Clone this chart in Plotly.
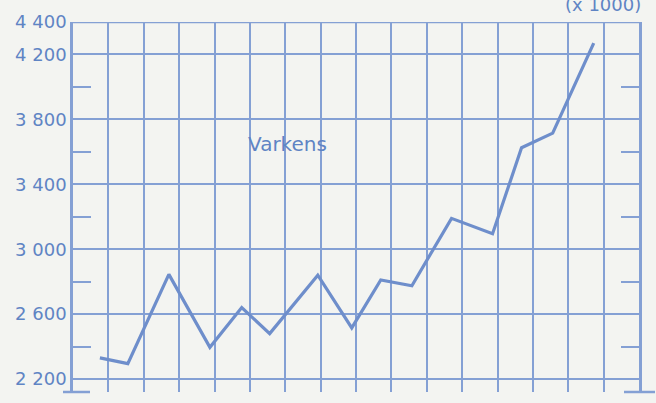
import plotly.graph_objects as go

# Data (x in grid-column units, y in thousands of pigs)
x_pos = [0.76, 1.55, 2.71, 3.87, 4.77, 5.56, 6.92, 7.88, 8.70, 9.58, 10.70, 11.86, 12.68, 13.56, 14.72]
varkens = [2330, 2295, 2845, 2395, 2640, 2480, 2840, 2515, 2810, 2775, 3190, 3095, 3625, 3715, 4270]

y_ticks = [2200, 2600, 3000, 3400, 3800, 4200, 4400]
y_ticktext = ["2 200", "2 600", "3 000", "3 400", "3 800", "4 200", "4 400"]
y_minor = [2400, 2800, 3200, 3600, 4000]
x_grid = list(range(0, 17))

BG = "#f3f4f1"
GRID = "#84a0d4"
LINE = "#6e8ecb"
TEXT = "#5f84c4"
FONT = "DejaVu Sans"

fig = go.Figure()
fig.add_trace(go.Scatter(
    x=x_pos, y=varkens, mode="lines",
    line=dict(color=LINE, width=3.2),
    hoverinfo="skip", showlegend=False,
))

fig.update_layout(
    width=656, height=403,
    paper_bgcolor=BG, plot_bgcolor=BG,
    margin=dict(l=73, r=17, t=17, b=11),
    font=dict(family=FONT, color=TEXT, size=18),
    xaxis=dict(
        range=[0, 16], tickvals=x_grid, showticklabels=False,
        showgrid=True, gridcolor=GRID, gridwidth=1.6,
        zeroline=False, showline=False, ticks="",
    ),
    yaxis=dict(
        range=[2120, 4400], tickvals=[v for v in y_ticks], ticktext=y_ticktext,
        showgrid=True, gridcolor=GRID, gridwidth=1.6,
        zeroline=False, showline=True, linecolor=GRID, linewidth=2.5,
        mirror="allticks", ticks="inside", ticklen=0, tickcolor=GRID,
        ticklabelstandoff=0,
        minor=dict(tickvals=y_minor, ticks="inside", ticklen=18,
                   tickcolor=GRID, tickwidth=1.6, showgrid=False),
        tickfont=dict(size=18, color=TEXT, family=FONT),
    ),
)

# top border line
fig.add_shape(type="line", xref="paper", yref="y", x0=0, x1=1, y0=4400, y1=4400,
              line=dict(color=GRID, width=2.5))
# bottom stubs of the frame
fig.add_shape(type="line", xref="paper", yref="paper", x0=-10/566, x1=17/566, y0=0, y1=0,
              line=dict(color=GRID, width=2.5))
fig.add_shape(type="line", xref="paper", yref="paper", x0=1 - 15/566, x1=1 + 16/566, y0=0, y1=0,
              line=dict(color=GRID, width=2.5))

fig.add_annotation(text="Varkens", x=6.05, y=3650, xref="x", yref="y",
                   showarrow=False, font=dict(size=20, color=TEXT, family=FONT))
fig.add_annotation(text="(x 1000)", x=1, y=1, xref="paper", yref="paper",
                   xanchor="right", yanchor="middle", xshift=4, yshift=18, showarrow=False,
                   font=dict(size=18, color=TEXT, family=FONT))

fig.write_html(
    "out.html",
    config={"displayModeBar": False},
    post_script="document.body.style.margin='0';document.body.style.background='#f3f4f1';",
)
